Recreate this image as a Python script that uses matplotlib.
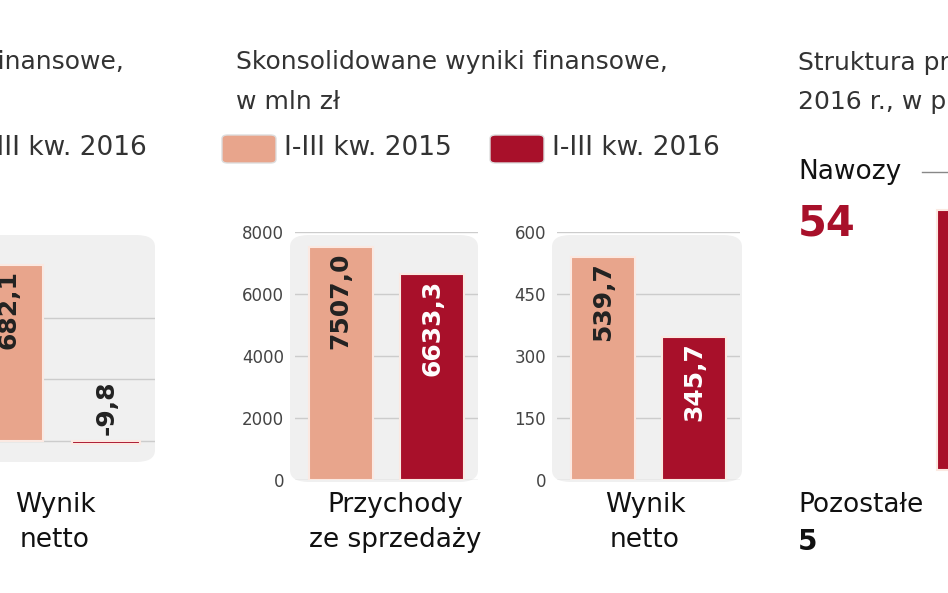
import matplotlib
matplotlib.use("Agg")
import matplotlib.pyplot as plt
from matplotlib.patches import FancyBboxPatch, Rectangle

W, H = 948, 593
fig = plt.figure(figsize=(W/100, H/100), dpi=100)
fig.patch.set_facecolor("white")

C15 = "#e8a58c"
C16 = "#a8102a"
GRID = "#cccccc"
PANEL = "#f0f0f0"

# data
left_vals = [682.1, -9.8]
left_labels = ["682,1", "-9,8"]
rev_vals = [7507.0, 6633.3]
rev_labels = ["7507,0", "6633,3"]
net_vals = [539.7, 345.7]
net_labels = ["539,7", "345,7"]
rev_ticks = [0, 2000, 4000, 6000, 8000]
net_ticks = [0, 150, 300, 450, 600]

def fx(x): return x / W
def fy(y): return 1 - y / H

def panel(x0, y0, x1, y1):
    p = FancyBboxPatch((fx(x0), fy(y1)), fx(x1 - x0), (y1 - y0) / H,
                       boxstyle="round,pad=0,rounding_size=0.02",
                       transform=fig.transFigure, facecolor=PANEL, edgecolor="none", zorder=-5)
    fig.patches.append(p)

def bars(x0, y0, x1, y1, vals, labels, ylim, ticks, show_ticks=True):
    ax = fig.add_axes([fx(x0), fy(y1), fx(x1 - x0), (y1 - y0) / H])
    ax.set_zorder(2)
    ax.set_facecolor("none")
    ax.set_xlim(-0.5, 1.5)
    ax.set_ylim(*ylim)
    for t in ticks:
        ax.axhline(t, color=GRID, lw=1, zorder=0)
    ax.bar([0, 1], vals, width=0.7, color=[C15, C16], edgecolor="#fbe9e2", linewidth=1.5, zorder=2)
    for i, (v, lab) in enumerate(zip(vals, labels)):
        if v > 0 and v > (ylim[1] - ylim[0]) * 0.4:
            ax.text(i, v - (ylim[1]-ylim[0]) * 0.02, lab, rotation=90, ha="center", va="top",
                    fontsize=18, fontweight="bold", color="#222222" if i == 0 else "white", zorder=3)
        else:
            top = max(v, 0) + (ylim[1]-ylim[0]) * 0.03
            ax.text(i, top, lab, rotation=90, ha="center", va="bottom",
                    fontsize=18, fontweight="bold", color="#222222", zorder=3)
    for s in ax.spines.values():
        s.set_visible(False)
    ax.set_xticks([])
    if show_ticks:
        ax.set_yticks(ticks)
        ax.set_yticklabels([str(t) for t in ticks], fontsize=12, color="#444444")
        ax.tick_params(axis="y", length=0, pad=8)
    else:
        ax.set_yticks([])
    return ax

TS = 18
LS = 19

# left partial panel
panel(-40, 235, 155, 462)
bars(-40, 235, 155, 462, left_vals, left_labels, (-80, 800), [0, 240, 480], show_ticks=False)
fig.text(fx(124), fy(62), "Skonsolidowane wyniki finansowe,", fontsize=TS, color="#333333", va="center", ha="right")
fig.text(fx(147), fy(148), "I-III kw. 2016", fontsize=LS, color="#333333", va="center", ha="right")
fig.text(fx(55), fy(505), "Wynik", fontsize=LS, color="#111111", ha="center", va="center")
fig.text(fx(55), fy(540), "netto", fontsize=LS, color="#111111", ha="center", va="center")

# middle panel
panel(290, 235, 478, 482)
panel(552, 235, 742, 482)
bars(295, 232, 478, 480, rev_vals, rev_labels, (0, 8000), rev_ticks)
bars(557, 232, 740, 480, net_vals, net_labels, (0, 600), net_ticks)
fig.text(fx(236), fy(62), "Skonsolidowane wyniki finansowe,", fontsize=TS, color="#333333", va="center")
fig.text(fx(236), fy(102), "w mln zł", fontsize=TS, color="#333333", va="center")
for x, c, lab in [(222, C15, "I-III kw. 2015"), (490, C16, "I-III kw. 2016")]:
    fig.patches.append(FancyBboxPatch((fx(x), fy(163)), fx(54), 28 / H,
                       boxstyle="round,pad=0,rounding_size=0.006", transform=fig.transFigure,
                       facecolor=c, edgecolor="#dddddd", lw=1))
    fig.text(fx(x + 62), fy(148), lab, fontsize=LS, color="#333333", va="center")
fig.text(fx(395), fy(505), "Przychody", fontsize=LS, color="#111111", ha="center", va="center")
fig.text(fx(395), fy(540), "ze sprzedaży", fontsize=LS, color="#111111", ha="center", va="center")
fig.text(fx(645), fy(505), "Wynik", fontsize=LS, color="#111111", ha="center", va="center")
fig.text(fx(645), fy(540), "netto", fontsize=LS, color="#111111", ha="center", va="center")

# right partial panel
fig.text(fx(798), fy(62), "Struktura przychodów", fontsize=TS, color="#333333", va="center")
fig.text(fx(798), fy(102), "2016 r., w proc.", fontsize=TS, color="#333333", va="center")
fig.text(fx(798), fy(172), "Nawozy", fontsize=LS, color="#111111", va="center")
fig.lines.append(plt.Line2D([fx(922), fx(948)], [fy(172), fy(172)], color="#888888", lw=1, transform=fig.transFigure))
fig.text(fx(798), fy(223), "54", fontsize=30, fontweight="bold", color=C16, va="center")
fig.patches.append(Rectangle((fx(937), fy(470)), fx(30), 260 / H, transform=fig.transFigure,
                             facecolor=C16, edgecolor="#fbe9e2", lw=1.5))
fig.text(fx(798), fy(505), "Pozostałe", fontsize=LS, color="#111111", va="center")
fig.text(fx(798), fy(542), "5", fontsize=20, fontweight="bold", color="#111111", va="center")

fig.savefig("out.png", dpi=100)
